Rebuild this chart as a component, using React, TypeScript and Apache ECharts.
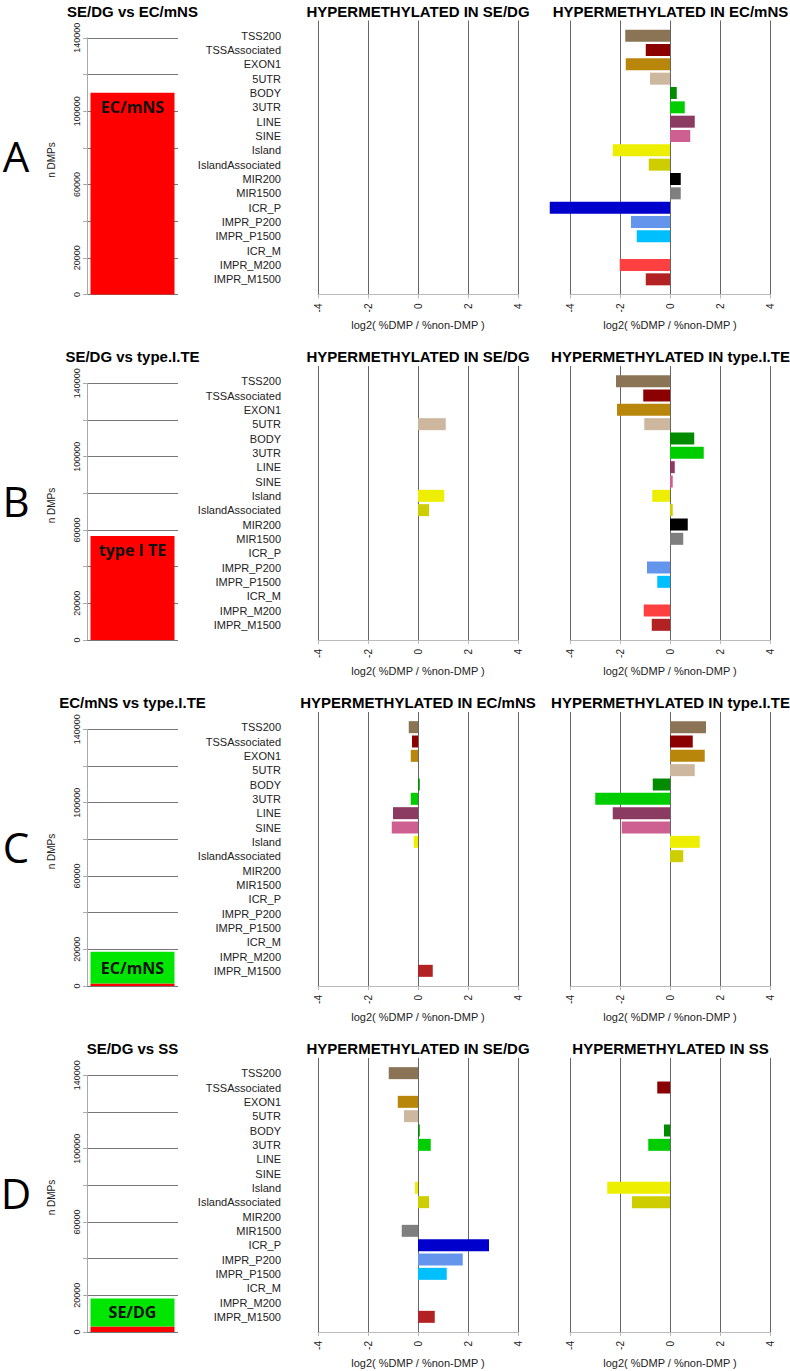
import React, { useEffect, useRef } from "react";
import * as echarts from "echarts";

// ---------- DATA ----------
const categories = [
  "TSS200", "TSSAssociated", "EXON1", "5UTR", "BODY", "3UTR", "LINE", "SINE",
  "Island", "IslandAssociated", "MIR200", "MIR1500", "ICR_P", "IMPR_P200",
  "IMPR_P1500", "ICR_M", "IMPR_M200", "IMPR_M1500",
];
const categoryColors = [
  "#8B7355", "#8B0000", "#B8860B", "#CDB79E", "#008B00", "#00CD00", "#8B3A62", "#CD6090",
  "#EEEE00", "#CDCD00", "#000000", "#7F7F7F", "#0000CD", "#6495ED",
  "#00BFFF", "#8B008B", "#FF4040", "#B22222",
];

const panelLetters = ["A", "B", "C", "D"];
const comparisonTitles = ["SE/DG vs EC/mNS", "SE/DG vs type.I.TE", "EC/mNS vs type.I.TE", "SE/DG vs SS"];
const middleTitles = ["HYPERMETHYLATED IN SE/DG", "HYPERMETHYLATED IN SE/DG", "HYPERMETHYLATED IN EC/mNS", "HYPERMETHYLATED IN SE/DG"];
const rightTitles = ["HYPERMETHYLATED IN EC/mNS", "HYPERMETHYLATED IN type.I.TE", "HYPERMETHYLATED IN type.I.TE", "HYPERMETHYLATED IN SS"];

// n DMPs stacked: red (bottom) and green (top)
const dmpRed = [110000, 56700, 1300, 3000];
const dmpGreen = [0, 0, 17400, 15300];
const dmpBarLabels = ["EC/mNS", "type I TE", "EC/mNS", "SE/DG"];
const dmpLabelledTicks = [0, 20000, 60000, 100000, 140000];

const N = null;
// log2( %DMP / %non-DMP ), one value per category (null = no bar)
const aMiddle = [N, N, N, N, N, N, N, N, N, N, N, N, N, N, N, N, N, N];
const aRight = [-1.79, -0.97, -1.77, -0.80, 0.27, 0.59, 0.99, 0.81, -2.29, -0.85, 0.43, 0.43, -4.81, -1.56, -1.33, N, -2.01, -0.97];
const bMiddle = [N, N, N, 1.11, N, N, N, N, 1.05, 0.44, N, N, N, N, N, N, N, N];
const bRight = [-2.16, -1.07, -2.12, -1.03, 0.97, 1.35, 0.19, 0.11, -0.71, 0.11, 0.71, 0.53, N, -0.92, -0.51, N, -1.05, -0.73];
const cMiddle = [-0.37, -0.24, -0.29, N, 0.07, -0.29, -1.00, -1.05, -0.17, N, N, N, N, N, N, N, N, 0.59];
const cRight = [1.44, 0.91, 1.39, 0.99, -0.69, -2.99, -2.29, -1.93, 1.19, 0.53, N, N, N, N, N, N, N, N];
const dMiddle = [-1.17, N, -0.81, -0.56, 0.07, 0.51, N, N, -0.12, 0.44, N, -0.65, 2.84, 1.79, 1.15, N, N, 0.67];
const dRight = [N, -0.51, N, N, -0.24, -0.87, N, N, -2.51, -1.52, N, N, N, N, N, N, N, N];

const middleValues = [aMiddle, bMiddle, cMiddle, dMiddle];
const rightValues = [aRight, bRight, cRight, dRight];

const logMin = -4;
const logMax = 4;
const logStep = 2;
const dmpMax = 140000;
const dmpStep = 20000;

// ---------- LAYOUT ----------
const PANEL_Y = [0, 345.5, 691.5, 1037.5];
const FONT = "'Liberation Sans', Arial, sans-serif";

function buildOption() {
  const grid: any[] = [];
  const xAxis: any[] = [];
  const yAxis: any[] = [];
  const series: any[] = [];
  const graphic: any[] = [];

  panelLetters.forEach((letter, p) => {
    const oy = PANEL_Y[p];

    // panel letter
    graphic.push({
      type: "text", x: 16, y: oy + 155,
      style: { text: letter, fontSize: 42, fontFamily: "'Open Sans', sans-serif", fill: "#000", align: "center", verticalAlign: "middle" },
    });
    // titles
    const titles = [
      [comparisonTitles[p], 132.5],
      [middleTitles[p], 418],
      [rightTitles[p], 670.5],
    ];
    titles.forEach(([t, x]) => {
      graphic.push({
        type: "text", x, y: oy + 11,
        style: { text: t, fontSize: 15, fontWeight: "bold", fontFamily: FONT, fill: "#000", align: "center", verticalAlign: "middle" },
      });
    });
    // n DMPs axis name
    graphic.push({
      type: "text", x: 51, y: oy + 160, rotation: Math.PI / 2,
      style: { text: "n DMPs", fontSize: 10, fontFamily: FONT, fill: "#222", align: "center", verticalAlign: "middle" },
    });

    // ---- left n DMPs bar ----
    const gi = grid.length;
    grid.push({ left: 87, top: oy + 37.8, width: 91, height: 256.7 });
    xAxis.push({ gridIndex: gi, type: "category", data: ["n"], show: false });
    yAxis.push({
      gridIndex: gi, type: "value", min: 0, max: dmpMax, interval: dmpStep,
      axisLine: { show: true, lineStyle: { color: "#aaa" } },
      axisTick: { show: true, length: 4, lineStyle: { color: "#aaa" } },
      axisLabel: {
        rotate: 90, fontSize: 9, margin: 6, color: "#222", fontFamily: FONT,
        formatter: (v: number) => (dmpLabelledTicks.includes(v) ? String(v) : ""),
      },
      splitLine: { show: true, lineStyle: { color: "#777" } },
    });
    const labelOnGreen = dmpGreen[p] > 0;
    const barLabel = {
      show: true,
      formatter: dmpBarLabels[p],
      fontSize: 16, fontWeight: "bold", fontFamily: "'Open Sans', sans-serif", color: "#111",
    };
    series.push({
      type: "bar", xAxisIndex: gi, yAxisIndex: gi, stack: "dmp" + p, barWidth: 84,
      data: [dmpRed[p]], itemStyle: { color: "#FF0000" },
      label: labelOnGreen ? { show: false } : { ...barLabel, position: "insideTop", distance: 6 },
    });
    series.push({
      type: "bar", xAxisIndex: gi, yAxisIndex: gi, stack: "dmp" + p, barWidth: 84,
      data: [dmpGreen[p]], itemStyle: { color: "#00E600" },
      label: labelOnGreen ? { ...barLabel, position: "inside" } : { show: false },
    });

    // ---- middle and right log2 charts ----
    [318, 570].forEach((x0, side) => {
      const vals = side === 0 ? middleValues[p] : rightValues[p];
      const gl = grid.length;
      grid.push({ left: x0, top: oy + 20.5, width: 200, height: 274 });
      xAxis.push({
        gridIndex: gl, type: "value", min: logMin, max: logMax, interval: logStep,
        axisLine: { show: true, lineStyle: { color: "#bbb" } },
        axisTick: { show: true, length: 4, lineStyle: { color: "#bbb" } },
        axisLabel: { rotate: 90, fontSize: 10, margin: 9, color: "#222", fontFamily: FONT },
        splitLine: { show: true, showMinLine: true, showMaxLine: true, lineStyle: { color: "#666" } },
        name: "log2( %DMP / %non-DMP )", nameLocation: "middle", nameGap: 25,
        nameTextStyle: { fontSize: 11, color: "#222", fontFamily: FONT },
      });
      yAxis.push({ gridIndex: gl, type: "value", show: false });

      const gb = grid.length;
      grid.push({ left: x0, top: oy + 28.5, width: 200, height: 258 });
      xAxis.push({ gridIndex: gb, type: "value", min: logMin, max: logMax, show: false });
      yAxis.push({
        gridIndex: gb, type: "category", inverse: true, data: categories,
        axisLine: { show: false }, axisTick: { show: false },
        axisLabel: { show: side === 0, interval: 0, margin: 37, fontSize: 11, color: "#222", fontFamily: FONT },
        splitLine: { show: false },
      });
      series.push({
        type: "bar", xAxisIndex: gb, yAxisIndex: gb, barWidth: 12, clip: false,
        data: vals.map((v, i) => (v == null ? "-" : { value: v, itemStyle: { color: categoryColors[i] } })),
      });
    });
  });

  return {
    animation: false,
    backgroundColor: "#fff",
    grid, xAxis, yAxis, series, graphic,
  };
}

export default function App() {
  const ref = useRef<HTMLDivElement>(null);
  useEffect(() => {
    document.body.style.margin = "0";
    if (!ref.current) return;
    const chart = echarts.init(ref.current, null, { renderer: "svg" });
    chart.setOption(buildOption() as any);
    return () => chart.dispose();
  }, []);
  return <div ref={ref} style={{ width: 790, height: 1371 }} />;
}
